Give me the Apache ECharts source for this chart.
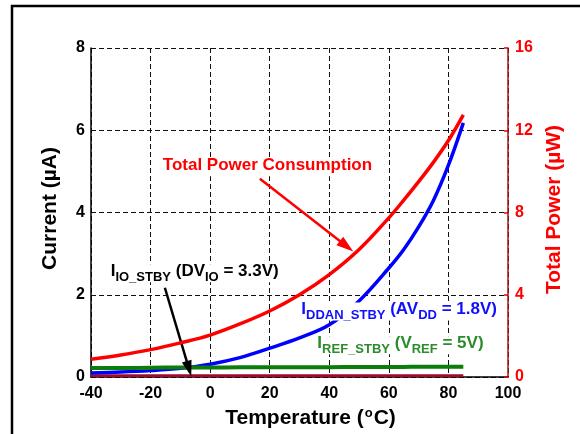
<!DOCTYPE html>
<html><head><meta charset="utf-8">
<script src="https://cdn.jsdelivr.net/npm/echarts@6/dist/echarts.min.js"></script>
<style>html,body{margin:0;padding:0;background:#fff}#c{width:580px;height:434px}</style>
</head><body><div id="c"></div>
<script>
// ---- data ----
const temps      = [-40, -30, -20, -10, 0, 10, 20, 30, 40, 50, 60, 65, 70, 75, 80, 85];
const totalPower = [0.86, 1.07, 1.33, 1.66, 2.04, 2.58, 3.21, 4.0, 4.98, 6.2, 7.74, 8.6, 9.5, 10.45, 11.5, 12.75]; // µW, right axis
const iDDAN      = [0.10, 0.12, 0.155, 0.21, 0.31, 0.47, 0.70, 0.95, 1.27, 1.85, 2.65, 3.1, 3.65, 4.3, 5.15, 6.18]; // µA
const iREF       = [0.22, 0.22, 0.225, 0.23, 0.23, 0.235, 0.235, 0.24, 0.24, 0.245, 0.245, 0.245, 0.25, 0.25, 0.25, 0.25]; // µA
const iIO        = [0.03, 0.03, 0.03, 0.03, 0.03, 0.03, 0.03, 0.03, 0.03, 0.03, 0.03, 0.03, 0.03, 0.03, 0.03, 0.03]; // µA
const xRange = [-40, 100, 20];
const yCurrentRange = [0, 8, 2];
const yPowerRange = [0, 16, 4];
// arrows [from, to] in (°C, µA)
const powerArrow = [[16.7, 4.82], [45.8, 3.18]];
const ioArrow = [[-15.2, 2.17], [-7.1, 0.2]];

const FONT = "'Liberation Sans', Arial, sans-serif";
const pairs = arr => temps.map((t, i) => [t, arr[i]]);

const chart = echarts.init(document.getElementById('c'), null, {renderer: 'canvas'});

const dash = {type: [5, 3], color: '#111', width: 1};
const lineCommon = {type: 'line', showSymbol: false, smooth: 0.35};
const option = {
  animation: false,
  backgroundColor: '#fff',
  grid: {left: 91, right: 72, top: 48, bottom: 57, containLabel: false, outerBoundsMode: 'none'},
  xAxis: {
    type: 'value', min: xRange[0], max: xRange[1], interval: xRange[2],
    axisLine: {onZero: false, lineStyle: {color: '#000', width: 1.5}},
    axisTick: {show: false},
    axisLabel: {color: '#000', fontFamily: FONT, fontWeight: 'bold', fontSize: 16, margin: 9},
    splitLine: {show: true, lineStyle: dash},
    name: '{t|Temperature (}{s|o}{t|C)}',
    nameLocation: 'middle', nameGap: 28,
    nameTextStyle: {
      padding: [0, 0, 0, 22],
      rich: {
        t: {fontFamily: FONT, fontWeight: 'bold', fontSize: 21, color: '#000', lineHeight: 24},
        s: {fontFamily: FONT, fontWeight: 'bold', fontSize: 13, color: '#000', lineHeight: 14, padding: [0, 1, 10, 1]}
      }
    }
  },
  yAxis: [{
    type: 'value', position: 'left', min: yCurrentRange[0], max: yCurrentRange[1], interval: yCurrentRange[2],
    axisLine: {show: true, onZero: false, lineStyle: {color: '#000', width: 1.5}},
    axisTick: {show: false},
    axisLabel: {color: '#000', fontFamily: FONT, fontWeight: 'bold', fontSize: 16, margin: 6},
    splitLine: {show: true, lineStyle: dash},
    name: 'Current (µA)', nameLocation: 'middle', nameGap: 30,
    nameTextStyle: {fontFamily: FONT, fontWeight: 'bold', fontSize: 21, color: '#000', padding: [0, 0, 0, 8]}
  }, {
    type: 'value', position: 'right', min: yPowerRange[0], max: yPowerRange[1], interval: yPowerRange[2],
    axisLine: {show: true, onZero: false, lineStyle: {color: '#a31515', width: 1.5}},
    axisTick: {show: true, inside: true, length: 4, lineStyle: {color: '#e00', width: 1.5}},
    axisLabel: {color: '#ff0000', fontFamily: FONT, fontWeight: 'bold', fontSize: 16, margin: 7},
    splitLine: {show: false},
    name: 'Total Power (µW)', nameLocation: 'middle', nameGap: 33,
    nameTextStyle: {fontFamily: FONT, fontWeight: 'bold', fontSize: 21, color: '#ff0000', padding: [0, 0, 0, 6]}
  }],
  series: [
    Object.assign({}, lineCommon, {
      name: 'IIO', yAxisIndex: 0, data: pairs(iIO),
      lineStyle: {color: '#9e0b2e', width: 3}, z: 2,
      markLine: {
        silent: true, animation: false,
        symbol: ['none', 'triangle'],
        label: {show: false},
        data: [
          [{coord: powerArrow[0], symbolSize: 0, lineStyle: {color: '#ff0000', width: 2.5, type: 'solid'}},
           {coord: powerArrow[1], symbolSize: [11, 17]}],
          [{coord: ioArrow[0], symbolSize: 0, lineStyle: {color: '#000', width: 2.5, type: 'solid'}},
           {coord: ioArrow[1], symbolSize: [10, 16]}]
        ]
      }
    }),
    Object.assign({}, lineCommon, {
      name: 'IDDAN', yAxisIndex: 0, data: pairs(iDDAN),
      lineStyle: {color: '#0000ff', width: 3.5}, z: 3
    }),
    Object.assign({}, lineCommon, {
      name: 'IREF', yAxisIndex: 0, data: pairs(iREF),
      lineStyle: {color: '#0a7d0a', width: 4}, z: 4
    }),
    Object.assign({}, lineCommon, {
      name: 'Total Power', yAxisIndex: 1, data: pairs(totalPower),
      lineStyle: {color: '#ff0000', width: 3.5}, z: 5
    })
  ]
};
chart.setOption(option);

// ---- annotations (anchored in data space) ----
function richSet(color) {
  return {
    m: {fontFamily: FONT, fontWeight: 'bold', fontSize: 17, lineHeight: 18, padding: [0, 0, 4, 0], fill: color},
    s: {fontFamily: FONT, fontWeight: 'bold', fontSize: 13, lineHeight: 14, padding: [8, 0, 0, 0], fill: color}
  };
}
const annots = [
  {at: [-15.9, 5.32], color: '#ff0000', text: '{m|Total Power Consumption}'},
  {at: [-33.4, 2.74], color: '#000000', text: '{m|I}{s|IO_STBY}{m| (DV}{s|IO}{m| = 3.3V)}'},
  {at: [30.6, 1.81], color: '#1010ff', text: '{m|I}{s|DDAN_STBY}{m| (AV}{s|DD}{m| = 1.8V)}'},
  {at: [36.0, 0.99], color: '#2a8c2a', text: '{m|I}{s|REF_STBY}{m| (V}{s|REF}{m| = 5V)}'}
];
const graphics = annots.map(a => {
  const p = chart.convertToPixel({seriesIndex: 0}, a.at);
  return {
    type: 'text', x: p[0], y: p[1], z: 100,
    style: {text: a.text, rich: richSet(a.color), fill: a.color, align: 'left', verticalAlign: 'top',
            backgroundColor: '#fff'}
  };
});
graphics.push({
  type: 'rect', z: 200, silent: true,
  shape: {x: 12, y: 6, width: 640, height: 520},
  style: {fill: 'none', stroke: '#000', lineWidth: 2.5}
});
chart.setOption({graphic: graphics});
</script>
</body></html>
